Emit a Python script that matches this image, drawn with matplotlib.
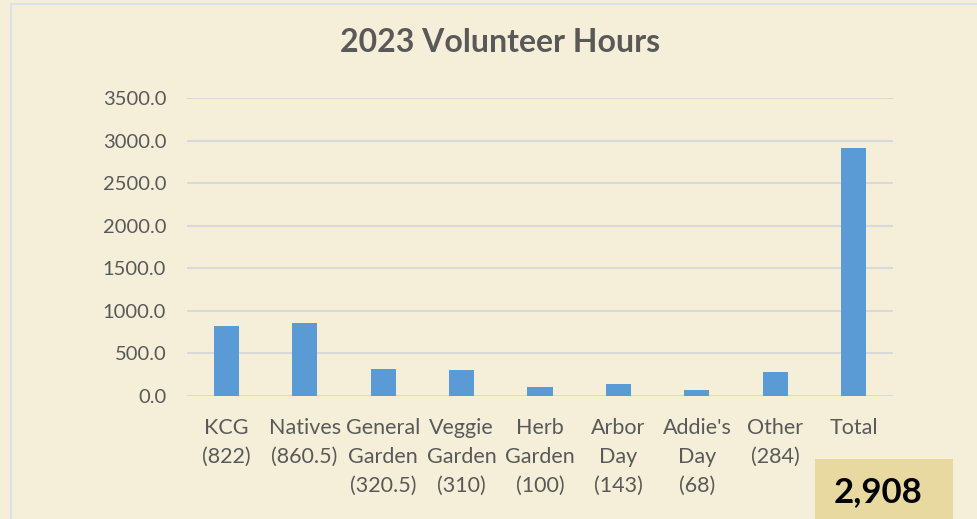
import matplotlib.pyplot as plt
from matplotlib.patches import Rectangle

# Data
categories = ['KCG\n(822)', 'Natives\n(860.5)', 'General\nGarden\n(320.5)',
              'Veggie\nGarden\n(310)', 'Herb\nGarden\n(100)', 'Arbor\nDay\n(143)',
              "Addie's\nDay\n(68)", 'Other\n(284)', 'Total']
hours = [822, 860.5, 320.5, 310, 100, 143, 68, 284, 2908]
yticks = [0, 500, 1000, 1500, 2000, 2500, 3000, 3500]
total_text = '2,908'

bg = '#F5EFD9'
bar_color = '#5B9BD5'
text_color = '#595959'

plt.rcParams['font.family'] = ['Lato', 'DejaVu Sans']

fig = plt.figure(figsize=(9.78, 5.19), dpi=100)
fig.patch.set_facecolor(bg)

# thin frame line at the top/left edge
fig.patches.append(Rectangle((11 / 978, -0.1), 1.2, 1.1 - 4 / 519, transform=fig.transFigure,
                             fill=False, edgecolor='#DCE2E8', linewidth=1.5))

ax = fig.add_axes([187 / 978, 1 - 396 / 519, 706 / 978, 298 / 519])
ax.set_facecolor(bg)

x = range(len(categories))
ax.bar(x, hours, width=0.32, color=bar_color, zorder=3)

ax.set_xlim(-0.5, len(categories) - 0.5)
ax.set_ylim(0, 3500)
ax.set_yticks(yticks)
ax.set_yticklabels([f'{v:.1f}' for v in yticks], fontsize=14.5, color=text_color)
ax.set_xticks(list(x))
ax.set_xticklabels(categories, fontsize=15.5, color=text_color, linespacing=1.55, va='top')
ax.tick_params(axis='x', length=0, pad=16)
ax.tick_params(axis='y', length=0, pad=15)
ax.grid(axis='y', color='#D9D9D9', linewidth=1.5, zorder=0)
for s in ax.spines.values():
    s.set_visible(False)

fig.text(500 / 978, 1 - 43 / 519, '2023 Volunteer Hours', ha='center', va='center',
         fontsize=23, fontweight='bold', color=text_color)

# highlighted total box
fig.patches.append(Rectangle((815 / 978, 0), 138 / 978, 60 / 519, transform=fig.transFigure,
                             facecolor='#E8D9A0', edgecolor='none'))
fig.text(878 / 978, 1 - 492 / 519, total_text, ha='center', va='center',
         fontsize=25, fontweight='bold', color='black')

fig.savefig('out.png', dpi=100, facecolor=bg)
